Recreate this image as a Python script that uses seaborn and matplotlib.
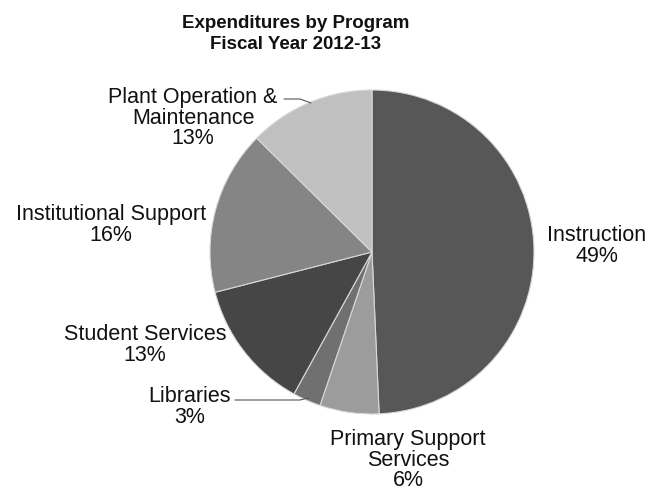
import matplotlib
matplotlib.use("Agg")
import matplotlib.pyplot as plt
import seaborn as sns

# expenditure shares (percent of total)
programs = ["Instruction", "Primary Support\nServices", "Libraries", "Student Services",
            "Institutional Support", "Plant Operation &\nMaintenance"]
shares = [49.3, 5.9, 2.8, 13.0, 16.4, 12.6]
grays = ["#575757", "#9c9c9c", "#707070", "#464646", "#858585", "#c0c0c0"]

# label anchor points (pixels, origin bottom-left)
label_xy = [(597, 245), (408, 31), (190, 84), (145, 146), (111, 266), (193, 373)]

sns.set_style("white")
plt.rcParams["font.family"] = ["Liberation Sans", "DejaVu Sans"]

fig = plt.figure(figsize=(6.57, 4.91), dpi=100)
ax = fig.add_axes([0, 0, 1, 1])
ax.set_xlim(0, 657)
ax.set_ylim(0, 491)
ax.set_aspect("equal")

ax.pie(shares, colors=grays, startangle=90, counterclock=False,
       center=(372, 239), radius=162, frame=True,
       wedgeprops=dict(edgecolor="#d8d8d8", linewidth=0.8))
ax.axis("off")

for name, v, (x, y) in zip(programs, shares, label_xy):
    ax.text(x, y, f"{name}\n{v:.0f}%", ha="center", va="center",
            fontsize=15.5, color="#111111", linespacing=0.95)

# leader lines for the small outside labels
ax.plot([284, 300, 311], [392, 392, 388], color="#555555", lw=0.8)
ax.plot([235, 300, 308], [91, 91, 93], color="#555555", lw=0.8)

ax.text(296, 457, "Expenditures by Program\nFiscal Year 2012-13", ha="center", va="center",
        fontsize=13.5, fontweight="bold", color="#111111", linespacing=1.25)

fig.savefig("out.png", dpi=100)
